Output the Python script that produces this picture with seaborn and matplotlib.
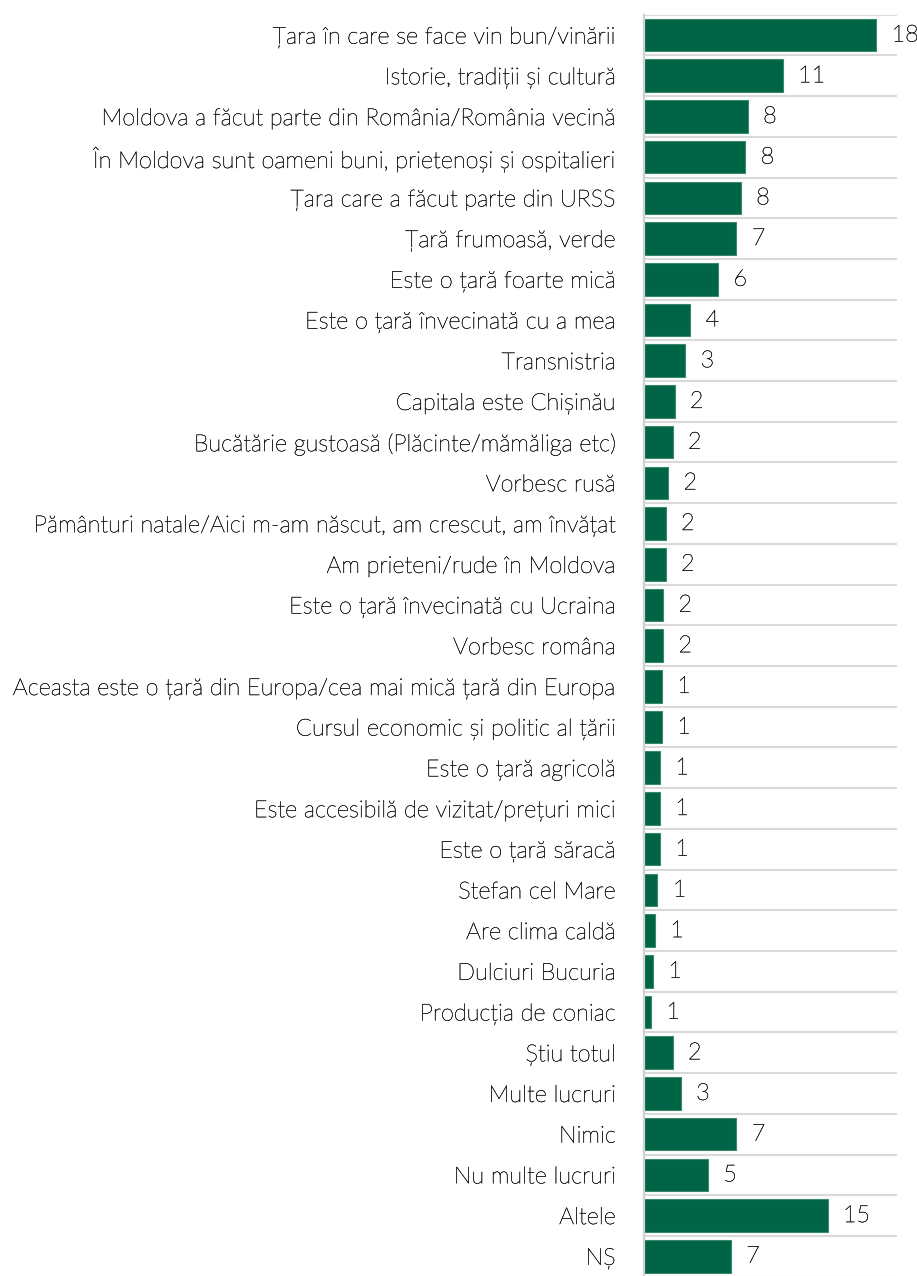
import matplotlib
matplotlib.use("Agg")
import matplotlib.pyplot as plt
import matplotlib.patheffects as pe
import seaborn as sns
import pandas as pd

categories = [
    "Țara în care se face vin bun/vinării",
    "Istorie, tradiții și cultură",
    "Moldova a făcut parte din România/România vecină",
    "În Moldova sunt oameni buni, prietenoși și ospitalieri",
    "Țara care a făcut parte din URSS",
    "Țară frumoasă, verde",
    "Este o țară foarte mică",
    "Este o țară învecinată cu a mea",
    "Transnistria",
    "Capitala este Chișinău",
    "Bucătărie gustoasă (Plăcinte/mămăliga etc)",
    "Vorbesc rusă",
    "Pământuri natale/Aici m-am născut, am crescut, am învățat",
    "Am prieteni/rude în Moldova",
    "Este o țară învecinată cu Ucraina",
    "Vorbesc româna",
    "Aceasta este o țară din Europa/cea mai mică țară din Europa",
    "Cursul economic și politic al țării",
    "Este o țară agricolă",
    "Este accesibilă de vizitat/prețuri mici",
    "Este o țară săracă",
    "Stefan cel Mare",
    "Are clima caldă",
    "Dulciuri Bucuria",
    "Producția de coniac",
    "Știu totul",
    "Multe lucruri",
    "Nimic",
    "Nu multe lucruri",
    "Altele",
    "NȘ",
]
values = [18.4, 11.0, 8.25, 8.05, 7.7, 7.35, 5.9, 3.7, 3.3, 2.45, 2.3, 1.95,
          1.75, 1.75, 1.55, 1.55, 1.45, 1.45, 1.3, 1.3, 1.3, 1.1, 0.9, 0.75,
          0.6, 2.3, 2.95, 7.35, 5.1, 14.55, 6.9]
value_labels = [18, 11, 8, 8, 8, 7, 6, 4, 3, 2, 2, 2, 2, 2, 2, 2, 1, 1, 1, 1,
                1, 1, 1, 1, 1, 2, 3, 7, 5, 15, 7]

sns.set_theme(style="white")
plt.rcParams['font.family'] = ['Lato', 'DejaVu Sans']
plt.rcParams['font.weight'] = 'light'

text_color = "#1a1a1a"
thicken = [pe.withStroke(linewidth=0.3, foreground=text_color)]

df = pd.DataFrame({"cat": categories, "val": values})

fig = plt.figure(figsize=(9.17, 12.76), dpi=100)
ax = fig.add_axes([0.7018, -0.0005, 0.2765, 0.989])

bar_color = "#006446"
sns.barplot(data=df, y="cat", x="val", orient="h", color=bar_color,
            saturation=1, width=0.8, edgecolor="#3a8a6a", linewidth=0.8, ax=ax)

ax.set_xlim(0, 20.05)
ax.set_ylim(len(categories) - 0.5, -0.5)
ax.set_xlabel("")
ax.set_ylabel("")
ax.set_xticks([])

ax.set_yticks([i + 0.5 for i in range(-1, len(categories))], minor=True)
ax.grid(True, axis="y", which="minor", color="#d9d9d9", linewidth=1.5)
ax.grid(False, axis="y", which="major")
ax.set_axisbelow(True)
ax.tick_params(axis="y", which="both", length=0)
ax.tick_params(axis="y", which="major", pad=20, labelsize=16.9, labelcolor=text_color)
for t in ax.get_yticklabels():
    t.set_fontweight("light")
    t.set_path_effects(thicken)

for s in ["top", "right", "bottom"]:
    ax.spines[s].set_visible(False)
ax.spines["left"].set_color("#d0d0d0")
ax.spines["left"].set_linewidth(1.6)

for i, (v, lab) in enumerate(zip(values, value_labels)):
    ax.annotate(str(lab), xy=(v, i), xytext=(11, 0), textcoords="offset points",
                va="center", ha="left", fontsize=16.9, fontweight="light",
                color=text_color, annotation_clip=False, path_effects=thicken)

fig.savefig("out.png", dpi=100)
